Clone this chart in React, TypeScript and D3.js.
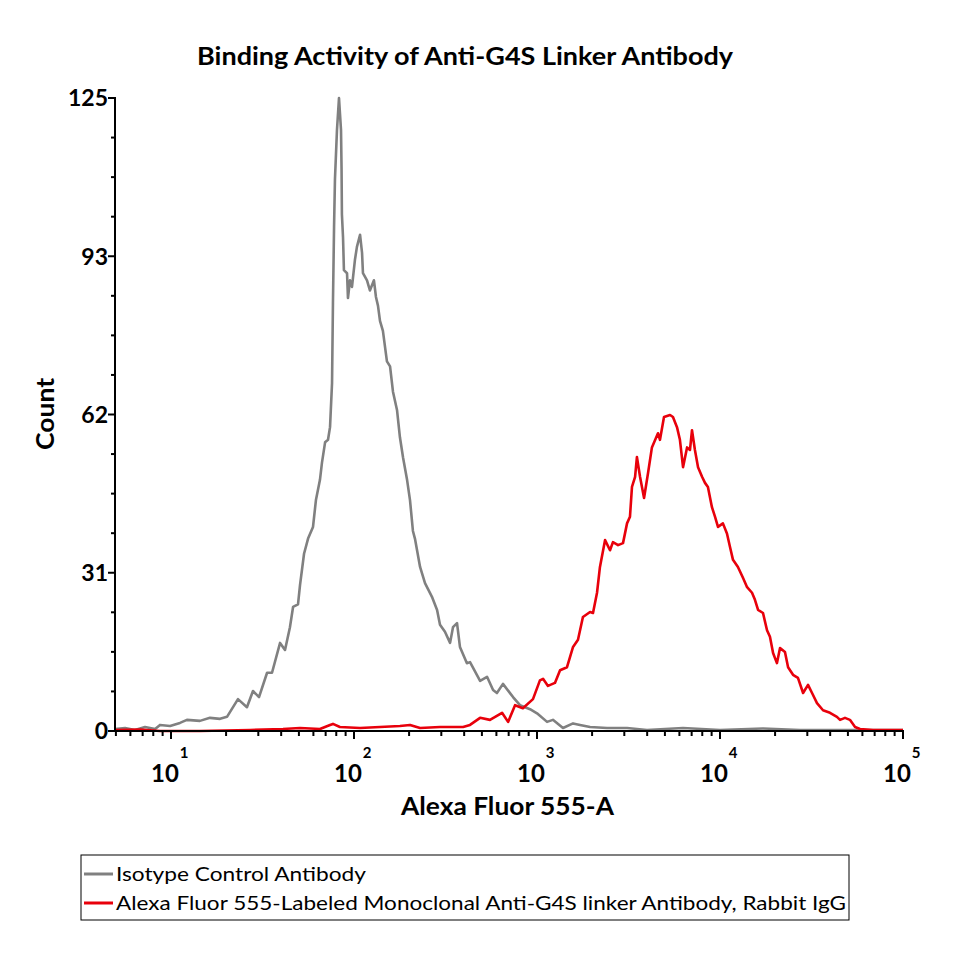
import React from "react";
import * as d3 from "d3";

// Data: x as log10(fluorescence), y as event count
const GRAY_LOG = [0.694, 0.749, 0.803, 0.858, 0.913, 0.94, 0.995, 1.049, 1.087, 1.158, 1.213, 1.268, 1.306, 1.366, 1.415, 1.448, 1.481, 1.525, 1.552, 1.596, 1.623, 1.65, 1.667, 1.694, 1.705, 1.727, 1.749, 1.776, 1.792, 1.814, 1.825, 1.842, 1.858, 1.869, 1.88, 1.885, 1.891, 1.896, 1.907, 1.918, 1.929, 1.932, 1.934, 1.94, 1.945, 1.962, 1.967, 1.978, 1.989, 2.005, 2.016, 2.033, 2.044, 2.049, 2.071, 2.087, 2.109, 2.12, 2.131, 2.142, 2.158, 2.18, 2.197, 2.213, 2.235, 2.251, 2.268, 2.29, 2.306, 2.322, 2.333, 2.361, 2.388, 2.426, 2.454, 2.47, 2.497, 2.525, 2.541, 2.563, 2.579, 2.617, 2.634, 2.689, 2.727, 2.76, 2.781, 2.814, 2.869, 2.907, 2.962, 3.0, 3.055, 3.087, 3.142, 3.197, 3.235, 3.29, 3.383, 3.492, 3.601, 3.798, 4.0, 4.235, 4.437, 4.71, 5.0];
const GRAY_COUNT = [0.4, 0.6, 0.2, 0.8, 0.4, 1.2, 1.0, 1.6, 2.2, 2.0, 2.6, 2.4, 2.8, 6.3, 4.7, 7.9, 6.7, 11.5, 11.5, 17.4, 16, 20.5, 24.5, 25, 28.8, 35, 38, 40.3, 45.6, 49.6, 53, 57, 57.5, 60, 68.7, 84.5, 99.5, 109, 118.7, 125, 118.7, 111, 102, 97.5, 91, 90.4, 85.5, 89, 87.7, 93, 95.6, 98, 94.4, 90.4, 89, 87, 89, 85.7, 84, 81, 79, 73, 72, 67, 63.4, 58, 54, 49.6, 45.6, 39.5, 38, 32.4, 29.2, 26.5, 23.9, 21, 19.6, 17.4, 20.5, 21.3, 16.6, 13.4, 13.6, 9.9, 10.7, 8.1, 7.5, 9.3, 6.7, 5.1, 4.3, 3.5, 1.8, 2.2, 0.6, 1.5, 1.2, 0.8, 0.6, 0.6, 0.2, 0.6, 0.2, 0.5, 0.2, 0.2, 0.2];

const RED_LOG = [0.694, 0.831, 0.94, 1.158, 1.432, 1.612, 1.705, 1.814, 1.869, 1.885, 1.923, 2.033, 2.142, 2.251, 2.306, 2.361, 2.47, 2.596, 2.634, 2.689, 2.743, 2.809, 2.842, 2.88, 2.923, 2.978, 3.016, 3.033, 3.06, 3.098, 3.126, 3.164, 3.197, 3.224, 3.251, 3.29, 3.306, 3.328, 3.344, 3.372, 3.399, 3.415, 3.443, 3.47, 3.492, 3.508, 3.519, 3.536, 3.546, 3.563, 3.585, 3.607, 3.628, 3.661, 3.672, 3.694, 3.727, 3.743, 3.765, 3.781, 3.798, 3.82, 3.836, 3.847, 3.863, 3.88, 3.902, 3.918, 3.934, 3.956, 3.973, 3.989, 4.016, 4.038, 4.055, 4.071, 4.098, 4.126, 4.148, 4.175, 4.191, 4.208, 4.235, 4.257, 4.273, 4.29, 4.311, 4.328, 4.355, 4.372, 4.399, 4.426, 4.454, 4.481, 4.503, 4.53, 4.563, 4.601, 4.639, 4.656, 4.683, 4.71, 4.738, 4.765, 4.836, 5.0];
const RED_COUNT = [0.2, 0.3, 0, 0, 0.2, 0.4, 0.6, 0.4, 1.2, 1.4, 0.8, 0.6, 0.8, 1.0, 1.2, 0.6, 0.8, 0.8, 1.2, 2.6, 2.2, 3.6, 1.8, 5.1, 4.5, 6.3, 10, 10.3, 8.9, 9.5, 12, 12.6, 16.6, 18, 22.5, 23.5, 23.3, 27.3, 32.4, 37.7, 35.7, 37.3, 36.7, 37.1, 41, 42.3, 48.2, 50.2, 54.1, 50.2, 46, 51, 56, 58.8, 57.5, 62, 62.4, 62, 60, 57.5, 52.1, 56, 55.5, 59.4, 55.5, 52.1, 50.2, 49, 48.2, 44.2, 42.3, 40.3, 41, 39, 36.3, 33.8, 32.4, 30.2, 28.4, 27.3, 25.9, 23.9, 23.3, 19.9, 18.6, 15.4, 13.4, 16.4, 15.6, 12.6, 11.1, 10.5, 7.5, 9.1, 7.5, 5.5, 4.1, 3.6, 2.8, 2.2, 2.6, 2.2, 0.8, 0.4, 0.2, 0.2];

const Y_MAX = 125;
const Y_TICK_LABELS = ["0", "31", "62", "93", "125"];
const X_DECADES = [1, 2, 3, 4, 5];
const X_MIN_LOG = 0.694;

const TITLE = "Binding Activity of Anti-G4S Linker Antibody";
const X_TITLE = "Alexa Fluor 555-A";
const Y_TITLE = "Count";
const SERIES_NAMES = [
  "Isotype Control Antibody",
  "Alexa Fluor 555-Labeled Monoclonal Anti-G4S linker Antibody, Rabbit IgG",
];
const SERIES_COLORS = ["#808080", "#e8000b"];

const FONT = "Lato, 'Open Sans', sans-serif";

export default function App() {
  const left = 115, right = 903, top = 98, bottom = 731;
  const x = d3.scaleLog().domain([Math.pow(10, X_MIN_LOG), 1e5]).range([left, right]);
  const y = d3.scaleLinear().domain([0, Y_MAX]).range([bottom, top]);

  const line = d3
    .line<[number, number]>()
    .x((d) => x(Math.pow(10, d[0])))
    .y((d) => y(d[1]));

  const grayPts = GRAY_LOG.map((v, i) => [v, GRAY_COUNT[i]] as [number, number]);
  const redPts = RED_LOG.map((v, i) => [v, RED_COUNT[i]] as [number, number]);

  const yMajor = d3.range(0, 5).map((i) => (Y_MAX * i) / 4);
  const yMinor = d3.range(0, 17).map((i) => (Y_MAX * i) / 16).filter((_, i) => i % 4 !== 0);

  const xMinor: number[] = [];
  for (let d = 0; d < 5; d++) {
    for (let k = 2; k <= 9; k++) {
      const v = k * Math.pow(10, d);
      if (v >= Math.pow(10, X_MIN_LOG)) xMinor.push(v);
    }
  }

  return (
    <svg width={960} height={960} style={{ position: "absolute", left: 0, top: 0, background: "#fff" }} fontFamily={FONT}>
      <rect x={0} y={0} width={960} height={960} fill="#fff" />
      <text x={465} y={65} textAnchor="middle" fontWeight="bold" fontSize={24} textLength={536} lengthAdjust="spacingAndGlyphs">
        {TITLE}
      </text>

      {/* series */}
      <path d={line(grayPts) || ""} fill="none" stroke={SERIES_COLORS[0]} strokeWidth={2.6} strokeLinejoin="round" />
      <path d={line(redPts) || ""} fill="none" stroke={SERIES_COLORS[1]} strokeWidth={2.6} strokeLinejoin="round" />

      {/* y axis */}
      <line x1={left} x2={left} y1={top - 1} y2={bottom + 1} stroke="#000" strokeWidth={2} />
      {yMajor.map((v, i) => (
        <g key={"ym" + i}>
          <line x1={left - 7} x2={left} y1={y(v)} y2={y(v)} stroke="#000" strokeWidth={2} />
          <text x={left - 7} y={y(v)} dy="0.36em" textAnchor="end" fontWeight="bold" fontSize={23}>
            {Y_TICK_LABELS[i]}
          </text>
        </g>
      ))}
      {yMinor.map((v, i) => (
        <line key={"yn" + i} x1={left - 4} x2={left} y1={y(v)} y2={y(v)} stroke="#000" strokeWidth={2} />
      ))}

      {/* x axis */}
      <line x1={left - 1} x2={right + 1} y1={bottom} y2={bottom} stroke="#000" strokeWidth={2} />
      {xMinor.map((v, i) => (
        <line key={"xn" + i} x1={x(v)} x2={x(v)} y1={bottom} y2={bottom + 5} stroke="#000" strokeWidth={2} />
      ))}
      {X_DECADES.map((d) => {
        const px = x(Math.pow(10, d));
        return (
          <g key={"xd" + d}>
            <line x1={px} x2={px} y1={bottom} y2={bottom + 8} stroke="#000" strokeWidth={2} />
            <text x={px - 6} y={782} textAnchor="middle" fontWeight="bold" fontSize={24}>
              10
            </text>
            <text x={px + 13} y={758} textAnchor="middle" fontWeight="bold" fontSize={15}>
              {d}
            </text>
          </g>
        );
      })}

      <text x={507.5} y={815} textAnchor="middle" fontWeight="bold" fontSize={24} textLength={213} lengthAdjust="spacingAndGlyphs">
        {X_TITLE}
      </text>
      <text transform="translate(54,414) rotate(-90)" textAnchor="middle" fontWeight="bold" fontSize={24} textLength={72} lengthAdjust="spacingAndGlyphs">
        {Y_TITLE}
      </text>

      {/* legend */}
      <rect x={81} y={855} width={768} height={65} fill="#fff" stroke="#000" strokeWidth={1} />
      {SERIES_NAMES.map((name, i) => {
        const ly = 874 + i * 29;
        return (
          <g key={"lg" + i}>
            <line x1={84} x2={113} y1={ly} y2={ly} stroke={SERIES_COLORS[i]} strokeWidth={3} />
            <text x={116} y={ly} dy="0.36em" fontSize={20} textLength={i === 0 ? 250 : 730} lengthAdjust="spacingAndGlyphs">
              {name}
            </text>
          </g>
        );
      })}
    </svg>
  );
}
